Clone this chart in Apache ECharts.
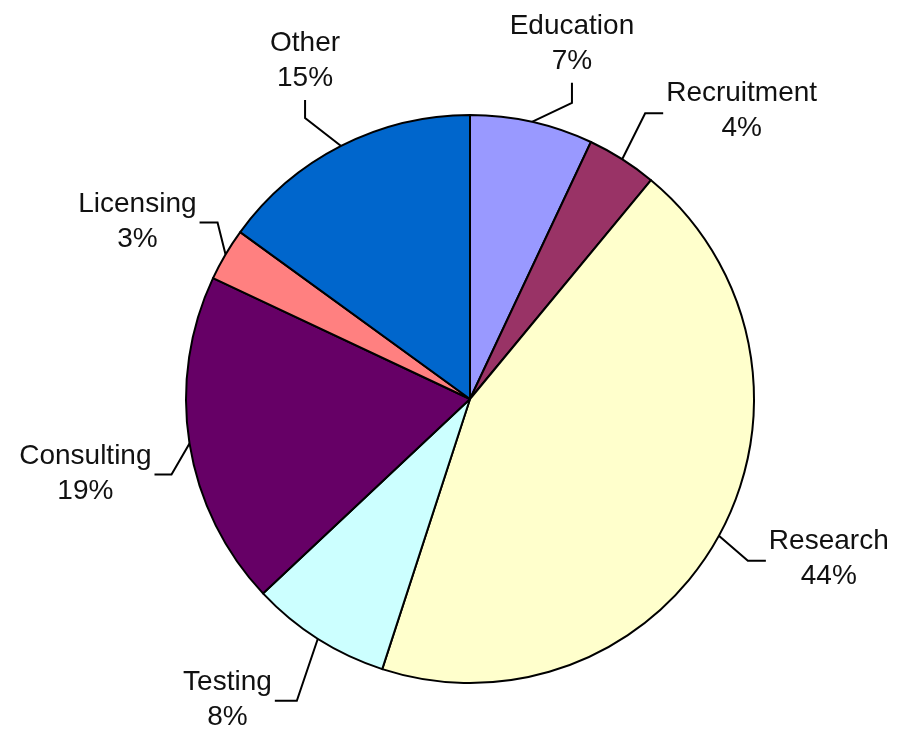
<!DOCTYPE html>
<html>
<head>
<meta charset="utf-8">
<script src="https://cdn.jsdelivr.net/npm/echarts@6/dist/echarts.min.js"></script>
<style>
  html, body { margin: 0; padding: 0; background: #fff; }
  #main { width: 910px; height: 729px; }
</style>
</head>
<body>
<div id="main"></div>
<script>
// slices clockwise from 12 o'clock
var categories = ['Education', 'Recruitment', 'Research', 'Testing', 'Consulting', 'Licensing', 'Other']
var shares = [7, 4, 44, 8, 19, 3, 15]
var colors = ['#9999FF', '#993366', '#FFFFCC', '#CCFFFF', '#660066', '#FF8080', '#0066CC']

// leader line shape per label: [turn dx, turn dy, end dx, end dy], label side
var leaders = {
  Education:   [40, -19, 0, -20, 'top'],
  Recruitment: [23, -46, 18, 0, 'right'],
  Research:    [29, 25, 18, 0, 'right'],
  Testing:     [-21, 62, -22, 0, 'left'],
  Consulting:  [-18, 31, -17, 0, 'left'],
  Licensing:   [-8, -32, -18, 0, 'left'],
  Other:       [-36, -28, 0, -18, 'top']
}

var chart = echarts.init(document.getElementById('main'))

var pieData = categories.map(function (name, i) {
  return { name: name, value: shares[i], itemStyle: { color: colors[i] } }
})

var opt = {
  animation: false,
  backgroundColor: '#fff',
  series: [{
    type: 'pie',
    center: [470, 399],
    radius: 284,
    startAngle: 90,
    clockwise: true,
    data: pieData,
    itemStyle: {
      borderColor: '#000',
      borderWidth: 2
    },
    label: {
      show: true,
      position: 'outside',
      color: '#111',
      fontFamily: '"Liberation Sans", Arial, sans-serif',
      fontSize: 28,
      formatter: function (p) {
        return '{t|' + p.name + '}\n{t|' + p.value + '%}'
      },
      rich: {
        t: {
          align: 'center',
          fontFamily: '"Liberation Sans", Arial, sans-serif',
          fontSize: 28,
          lineHeight: 35,
          color: '#111'
        }
      }
    },
    labelLine: {
      show: true,
      length: 15,
      length2: 15,
      lineStyle: { color: '#000', width: 2 }
    },
    labelLayout: function (params) {
      var name = categories[params.dataIndex]
      var l = leaders[name]
      var p0 = params.labelLinePoints[0]
      var p1 = [p0[0] + l[0], p0[1] + l[1]]
      var p2 = [p1[0] + l[2], p1[1] + l[3]]
      var res = { labelLinePoints: [p0, p1, p2] }
      if (l[4] === 'top') {
        res.x = p2[0]
        res.y = p2[1] - 4
        res.align = 'center'
        res.verticalAlign = 'bottom'
      } else if (l[4] === 'right') {
        res.x = p2[0] + 3
        res.y = p2[1] - 2
        res.align = 'left'
        res.verticalAlign = 'middle'
      } else {
        res.x = p2[0] - 3
        res.y = p2[1] - 1
        res.align = 'right'
        res.verticalAlign = 'middle'
      }
      return res
    }
  }]
}

chart.setOption(opt)
</script>
</body>
</html>
